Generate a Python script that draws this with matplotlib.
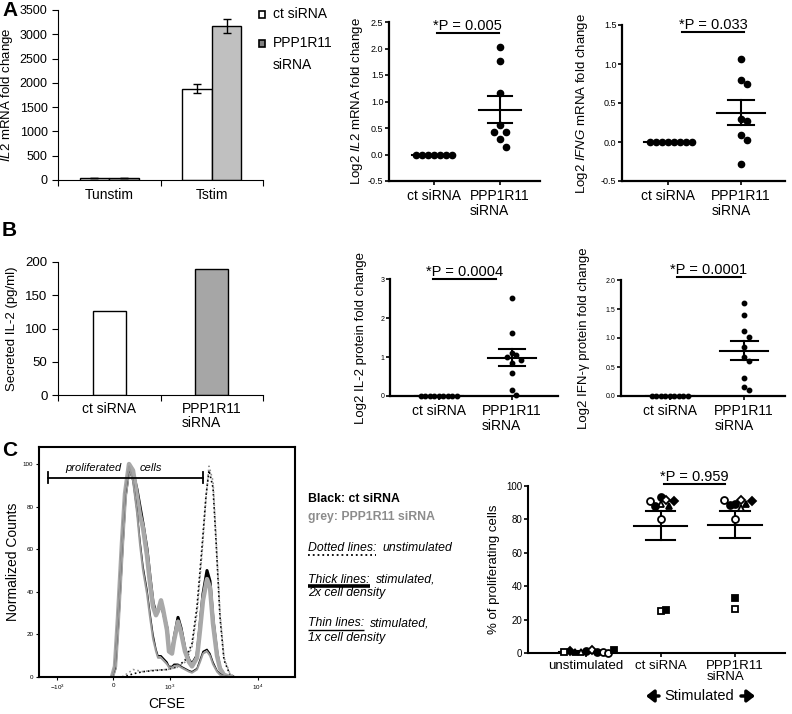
import numpy as np
import matplotlib
matplotlib.use('Agg')
import matplotlib.pyplot as plt
from matplotlib.patches import Rectangle

plt.rcParams['font.family'] = ['Liberation Sans', 'DejaVu Sans']
plt.rcParams['mathtext.fontset'] = 'custom'
plt.rcParams['mathtext.rm'] = 'Liberation Sans'
plt.rcParams['mathtext.it'] = 'Liberation Sans:italic'
plt.rcParams['mathtext.bf'] = 'Liberation Sans:bold'
plt.rcParams['axes.unicode_minus'] = False

W, H = 792, 714

# ── DATA ──────────────────────────────────────────────────────────────────────
# A: IL2 mRNA fold change (bars)
a_groups = ['Tunstim', 'Tstim']
a_ct = [45, 1880]
a_ct_err = [0, 90]
a_kd = [50, 3170]
a_kd_err = [0, 150]

# A: log2 mRNA fold change (dots)
il2_ct = [0, 0, 0, 0, 0, 0, 0]
il2_kd = [2.02, 1.76, 1.16, 0.55, 0.43, 0.42, 0.30, 0.15]
ifng_ct = [0, 0, 0, 0, 0, 0, 0, 0]
ifng_kd = [1.07, 0.80, 0.75, 0.30, 0.27, 0.09, 0.02, -0.28]

# B: secreted IL-2 and log2 protein fold change
b_groups = ['ct siRNA', 'PPP1R11\nsiRNA']
b_secreted = [126, 189]
il2p_ct = [0, 0, 0, 0, 0, 0, 0, 0, 0]
il2p_kd = [2.52, 1.62, 1.10, 1.05, 1.00, 0.92, 0.85, 0.60, 0.15, 0.02]
ifngp_ct = [0, 0, 0, 0, 0, 0, 0, 0, 0]
ifngp_kd = [1.60, 1.39, 1.12, 1.02, 0.84, 0.67, 0.61, 0.31, 0.16, 0.10]

# C: CFSE histograms (channel units, normalized counts)
stim_x = [73, 76, 79, 83, 86, 90, 94, 98, 101, 104, 108, 111, 114, 117, 119, 122,
          124, 128, 130, 133, 135, 139, 142, 146, 150, 153, 158, 161, 164, 168,
          171, 174, 178, 181, 185, 191]
thick_ct = [0, 4, 26, 60, 84, 98, 96, 88, 80, 72, 60, 47, 35, 30, 31, 34, 31, 23,
            13, 12, 18, 28, 23, 13, 8, 6, 10, 24, 39, 50, 45, 27, 11, 4, 1, 0]
thick_kd = [0, 5, 28, 63, 86, 100, 97, 85, 76, 70, 57, 44, 33, 29, 31, 36, 32, 22,
            12, 11, 17, 26, 21, 12, 7, 5, 9, 22, 36, 46, 42, 25, 10, 4, 1, 0]
thin_ct = [0, 4, 27, 62, 85, 98, 92, 78, 64, 52, 41, 30, 20, 13, 10, 10, 9, 7, 5,
           5, 6, 6, 5, 4, 3, 2.5, 4, 8, 12, 13, 11, 7, 3, 1.5, 0.5, 0]
thin_kd = [0, 5, 28, 63, 86, 99, 92, 77, 62, 50, 39, 28, 18, 12, 9, 9, 8, 6, 4.5,
           4.5, 5, 5.5, 4.5, 3.5, 2.5, 2, 3.5, 7, 11, 12, 10, 6, 2.5, 1, 0.5, 0]
unst_x = [83, 88, 94, 104, 114, 128, 138, 146, 153, 158, 163, 167, 170, 174, 177,
          181, 185, 191, 196]
unst_ct = [0, 0.5, 1.5, 2.5, 3, 3.5, 4.7, 7.8, 15.7, 33, 61, 85, 97, 89, 64, 28, 8, 1, 0]
unst_kd = [0, 1.5, 3.5, 2.5, 3.2, 3.5, 4.5, 7, 14, 30, 58, 84, 99, 92, 66, 30, 9, 1.5, 0]
cfse_ticks = [18, 74, 131, 219]
cfse_labels = [r'$-10^3$', '0', r'$10^3$', r'$10^4$']

# C: % proliferating cells per donor
c_groups = ['unstimulated', 'ct siRNA', 'PPP1R11\nsiRNA']
c_unst = [1.0, 2.0, 0.3, 0.8, 0.5, 0.6, 1.2, 0.2, 0.4, 1.5]
c_ct = [93.5, 91.5, 89, 88, 88, 91, 91, 80.5, 25, 25.5]
c_kd = [89.5, 91.5, 87, 88.5, 89.5, 91.5, 91, 80.5, 26.5, 33]
c_markers = ['o', 'D', '^', 'o', '^', 'o', 'D', 'o', 's', 's']
c_filled = [True, False, False, True, True, False, True, False, False, True]

fig = plt.figure(figsize=(W / 100, H / 100), dpi=100)


def px_axes(l, t, r, b):
    return fig.add_axes([l / W, 1 - b / H, (r - l) / W, (b - t) / H])


def swarm(vals, sx, sy):
    cands = [0.0]
    for i in range(1, 40):
        cands += [0.5 * i * sx, -0.5 * i * sx]
    placed, offs = [], []
    for v in vals:
        for c in cands:
            if all(((c - o) / sx) ** 2 + ((v - pv) / sy) ** 2 >= 0.999 for o, pv in placed):
                break
        placed.append((c, v))
        offs.append(c)
    return np.array(offs)


def spacing(ax):
    bb = ax.get_position()
    x0, x1 = ax.get_xlim()
    y0, y1 = ax.get_ylim()
    return bb.width * W / (x1 - x0), bb.height * H / (y1 - y0)


def mean_sem(ax, i, vals, mean_w, cap_w, lw=1.5):
    vals = np.asarray(vals, float)
    m = vals.mean()
    s = vals.std(ddof=1) / np.sqrt(len(vals))
    ax.plot([i - mean_w / 2, i + mean_w / 2], [m, m], color='k', lw=lw, zorder=2)
    if s > 0:
        ax.plot([i, i], [m - s, m + s], color='k', lw=lw, zorder=2)
        for yy in (m - s, m + s):
            ax.plot([i - cap_w / 2, i + cap_w / 2], [yy, yy], color='k', lw=lw, zorder=2)


def dot_panel(ax, groups, xlim, ylim, yticks, yfmt, ms, dot_px, tick_fs, ylabel, lab_x):
    ax.set_xlim(xlim)
    ax.set_ylim(ylim)
    ppx, ppy = spacing(ax)
    sx, sy = dot_px / ppx, 1.6 * dot_px / ppy
    for i, vals in enumerate(groups):
        offs = swarm(vals, sx, sy)
        ax.plot(i + offs, vals, 'o', ms=ms, color='k', zorder=3, clip_on=False)
        mean_sem(ax, i, vals, 0.65, 0.36)
    for s in ('top', 'right'):
        ax.spines[s].set_visible(False)
    for s in ('left', 'bottom'):
        ax.spines[s].set_linewidth(1.6)
    ax.set_yticks(yticks)
    ax.set_yticklabels([yfmt.format(v) for v in yticks], fontsize=tick_fs)
    ax.set_xticks([0, 1])
    ax.set_xticklabels(b_groups, fontsize=10, multialignment='left', linespacing=1.05)
    ax.tick_params(axis='y', length=3, width=1.2, pad=1)
    ax.tick_params(axis='x', length=3, width=1.2, pad=3)
    ax.set_ylabel(ylabel, fontsize=9.5)
    ax.yaxis.set_label_coords(lab_x, 0.5)


def p_bracket(ax, x0, x1, y, text):
    ax.plot([x0, x1], [y, y], color='k', lw=1.5, clip_on=False)
    ax.text((x0 + x1) / 2, y, text, ha='center', va='bottom', fontsize=10.5)


# ── A: IL2 mRNA bars ──────────────────────────────────────────────────────────
ax = px_axes(58, 10, 263, 180)
x = np.arange(len(a_groups))
bw = 0.29
ax.bar(x - bw / 2, a_ct, bw, yerr=a_ct_err, color='white', edgecolor='k', lw=1,
       error_kw=dict(capsize=3, lw=1, capthick=1))
ax.bar(x + bw / 2, a_kd, bw, yerr=a_kd_err, color='#c0c0c0', edgecolor='k', lw=1,
       error_kw=dict(capsize=3, lw=1, capthick=1))
ax.set_xlim(-0.5, 1.5)
ax.set_ylim(0, 3500)
ax.set_yticks(range(0, 3501, 500))
ax.set_xticks([-0.5, 0.5, 1.5])
ax.set_xticklabels([])
ax.set_xticks(x, minor=True)
ax.set_xticklabels(a_groups, minor=True, fontsize=10)
ax.tick_params(axis='x', which='minor', length=0, pad=6)
ax.tick_params(axis='both', which='major', length=4, labelsize=9)
for s in ('top', 'right'):
    ax.spines[s].set_visible(False)
ax.set_ylabel(r'$\mathit{IL2}$ mRNA fold change', fontsize=9.5)
ax.yaxis.set_label_coords(-0.212, 0.5)

# ── A: log2 IL2 / IFNG mRNA ───────────────────────────────────────────────────
ax = px_axes(389, 22, 540, 181)
dot_panel(ax, [il2_ct, il2_kd], (-0.68, 1.606), (-0.5, 2.5),
          [-0.5, 0.0, 0.5, 1.0, 1.5, 2.0, 2.5], '{:.1f}', 4.5, 6, 6.5,
          r'Log2 $\mathit{IL2}$ mRNA fold change', -0.16)
p_bracket(ax, 0.05, 0.98, 2.29, '*P = 0.005')

ax = px_axes(622, 25, 785, 181)
dot_panel(ax, [ifng_ct, ifng_kd], (-0.63, 1.60), (-0.5, 1.5),
          [-0.5, 0.0, 0.5, 1.0, 1.5], '{:.1f}', 4.5, 6, 6.5,
          r'Log2 $\mathit{IFNG}$ mRNA fold change', -0.196)
p_bracket(ax, 0.19, 1.04, 1.41, '*P = 0.033')

# ── B: secreted IL-2 ──────────────────────────────────────────────────────────
ax = px_axes(58, 262, 263, 395)
ax.bar([0, 1], b_secreted, 0.32, color=['white', '#a6a6a6'], edgecolor='k', lw=1)
ax.set_xlim(-0.5, 1.5)
ax.set_ylim(0, 200)
ax.set_yticks(range(0, 201, 50))
ax.set_xticks([-0.5, 0.5, 1.5])
ax.set_xticklabels([])
ax.set_xticks([0, 1], minor=True)
ax.set_xticklabels(b_groups, minor=True, fontsize=10, multialignment='left',
                   linespacing=1.05)
ax.tick_params(axis='x', which='minor', length=0, pad=5)
ax.tick_params(axis='both', which='major', length=4, labelsize=9.5)
for s in ('top', 'right'):
    ax.spines[s].set_visible(False)
ax.set_ylabel('Secreted IL-2 (pg/ml)', fontsize=9.5)
ax.yaxis.set_label_coords(-0.195, 0.5)

# ── B: log2 protein fold change ───────────────────────────────────────────────
ax = px_axes(390, 279, 558, 396)
dot_panel(ax, [il2p_ct, il2p_kd], (-0.67, 1.63), (0, 3), [0, 1, 2, 3], '{:d}',
          3.2, 4.5, 5, 'Log2 IL-2 protein fold change', -0.137)
p_bracket(ax, -0.08, 0.78, 3.0, '*P = 0.0004')

ax = px_axes(621, 280, 785, 396)
dot_panel(ax, [ifngp_ct, ifngp_kd], (-0.66, 1.55), (0, 2), [0.0, 0.5, 1.0, 1.5, 2.0],
          '{:.1f}', 3.2, 4.5, 5, 'Log2 IFN-\u03b3 protein fold change', -0.19)
p_bracket(ax, 0.09, 0.96, 2.05, '*P = 0.0001')

# ── C: CFSE histogram ─────────────────────────────────────────────────────────
ax = px_axes(39, 447, 295, 677)
ax.plot(unst_x, unst_kd, color='#909090', lw=1.2, ls=':')
ax.plot(unst_x, unst_ct, color='k', lw=1.2, ls=':')
ax.plot(stim_x, thick_ct, color='k', lw=2.2)
ax.plot(stim_x, thick_kd, color='#a8a8a8', lw=3.2)
ax.plot(stim_x, thin_ct, color='k', lw=1.0)
ax.plot(stim_x, thin_kd, color='#9a9a9a', lw=1.4)
ax.set_xlim(0, 256)
ax.set_ylim(0, 108)
ax.set_yticks(range(0, 101, 20))
ax.set_xticks(cfse_ticks)
ax.set_xticklabels(cfse_labels)
ax.tick_params(labelsize=4.5, length=2, pad=2)
for s in ax.spines.values():
    s.set_linewidth(1.5)
ax.set_ylabel('Normalized Counts', fontsize=10)
ax.yaxis.set_label_coords(-0.074, 0.5)
ax.set_xlabel('CFSE', fontsize=10)
# gate
ax.plot([8.7, 164.3], [93.6, 93.6], color='k', lw=1.3)
ax.plot([8.7, 8.7], [91, 96.2], color='k', lw=1.3)
ax.plot([164.3, 164.3], [91, 96.2], color='k', lw=1.3)
ax.text(54, 98, 'proliferated', style='italic', fontsize=8, ha='center', va='center')
ax.text(112, 98, 'cells', style='italic', fontsize=8, ha='center', va='center')

# ── C: % proliferating cells ──────────────────────────────────────────────────
ax = px_axes(528, 486, 785, 653)
ax.set_xlim(-0.78, 2.67)
ax.set_ylim(0, 100)
ppx, ppy = spacing(ax)
sx, sy = 5.5 / ppx, 6.5 / ppy
for i, vals in enumerate([c_unst, c_ct, c_kd]):
    offs = swarm(vals, sx, sy)
    for j, v in enumerate(vals):
        ms = 4.2 if c_markers[j] == 'D' else 5
        ax.plot(i + offs[j], v, c_markers[j], ms=ms, mew=1.3, mec='k',
                mfc='k' if c_filled[j] else 'white', zorder=3, clip_on=False)
    mean_sem(ax, i, vals, 0.72, 0.4)
for s in ('top', 'right'):
    ax.spines[s].set_visible(False)
for s in ('left', 'bottom'):
    ax.spines[s].set_linewidth(1.5)
ax.set_yticks(range(0, 101, 20))
ax.tick_params(axis='y', labelsize=7, length=3, width=1.2, pad=1)
ax.set_xticks(range(3))
ax.set_xticklabels(c_groups, fontsize=9.5, multialignment='left', linespacing=0.95)
ax.tick_params(axis='x', length=3, width=1.2, pad=2)
ax.set_ylabel('% of proliferating cells', fontsize=9.5)
ax.yaxis.set_label_coords(-0.109, 0.5)
p_bracket(ax, 1.04, 1.87, 101.2, '*P = 0.959')

# ── overlay: panel letters, legends, notes ────────────────────────────────────
ov = fig.add_axes([0, 0, 1, 1], zorder=10)
ov.set_xlim(0, W)
ov.set_ylim(H, 0)
ov.set_axis_off()

for lab, yy in (('A', 10), ('B', 230), ('C', 451)):
    ov.text(2, yy, lab, fontsize=15, fontweight='bold', va='center', ha='left')

ov.add_patch(Rectangle((259, 10.5), 6, 7, facecolor='white', edgecolor='k', lw=1.2))
ov.add_patch(Rectangle((259, 39.5), 6, 7, facecolor='#808080', edgecolor='k', lw=1.2))
ov.text(273, 14, 'ct siRNA', fontsize=10, va='center')
ov.text(273, 43, 'PPP1R11', fontsize=10, va='center')
ov.text(273, 65, 'siRNA', fontsize=10, va='center')

fs = 8.8
ov.text(308, 499, 'Black: ct siRNA', fontsize=fs, fontweight='bold', va='center')
ov.text(308, 517, 'grey: PPP1R11 siRNA', fontsize=fs, fontweight='bold',
        color='#8c8c8c', va='center')
heads = [('Dotted lines:', 'unstimulated', 548, 555, dict(ls=':', lw=1.3)),
         ('Thick lines:', 'stimulated,', 580, 586, dict(lw=2.6)),
         ('Thin lines:', 'stimulated,', 623, 630, dict(lw=1.0))]
fig.canvas.draw()
rend = fig.canvas.get_renderer()
for head, tail, yy, yu, kw in heads:
    t = ov.text(308, yy, head, fontsize=fs, style='italic', va='center')
    bb = t.get_window_extent(rend)
    ov.text(bb.x1 + 6, yy, tail, fontsize=fs, style='italic', va='center')
    ov.plot([bb.x0, bb.x1], [yu, yu], color='k', solid_capstyle='butt', **kw)
ov.text(308, 593, '2x cell density', fontsize=fs, style='italic', va='center')
ov.text(308, 638, '1x cell density', fontsize=fs, style='italic', va='center')

ov.text(699, 696, 'Stimulated', fontsize=10.5, ha='center', va='center')
arrow = dict(arrowstyle='-|>,head_width=0.35,head_length=0.45', lw=2.5, color='k',
             shrinkA=0, shrinkB=0)
ov.annotate('', xy=(646, 696), xytext=(659, 696), arrowprops=arrow)
ov.annotate('', xy=(755, 696), xytext=(741, 696), arrowprops=arrow)

plt.savefig('out.png', dpi=100)
